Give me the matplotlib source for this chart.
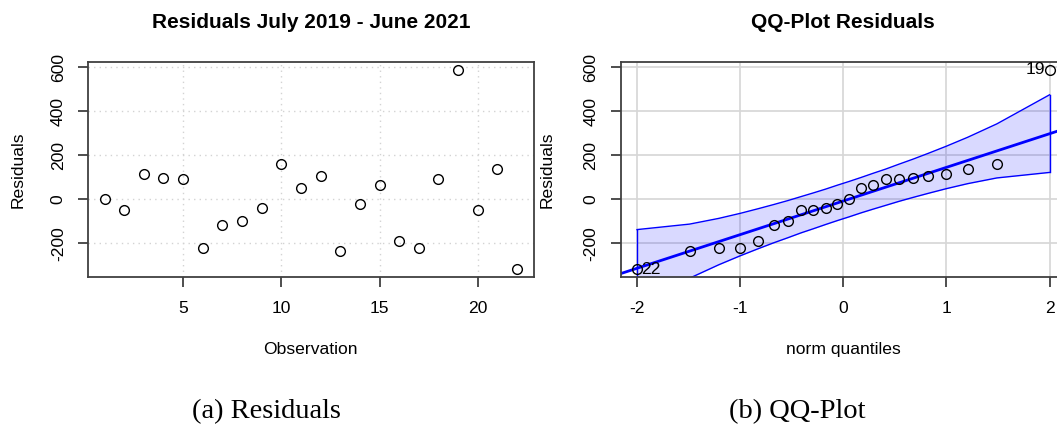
import matplotlib
matplotlib.use("Agg")
import matplotlib.pyplot as plt
import numpy as np

plt.rcParams["font.family"] = ["Liberation Sans", "DejaVu Sans"]
plt.rcParams["axes.unicode_minus"] = False

# residuals by observation
observations = list(range(1, 23))
residuals = [3, -47, 117, 97, 91, -221, -115, -98, -39, 159, 53,
             106, -235, -23, 67, -188, -221, 91, 588, -47, 139, -318]

# QQ panel: theoretical normal quantiles, reference line and envelope
norm_quantiles = [-2.000, -1.490, -1.207, -0.998, -0.825, -0.674, -0.537, -0.410,
                  -0.289, -0.172, -0.057, 0.057, 0.172, 0.289, 0.410, 0.537,
                  0.674, 0.825, 0.998, 1.207, 1.490, 2.000]
line_intercept = -8
line_slope = 153
band_upper = [-138, -113, -87, -64, -43, -24, -6, 12, 29, 46, 64,
              81, 99, 118, 137, 159, 182, 209, 241, 282, 343, 475]
band_lower = [-491, -359, -298, -257, -225, -198, -175, -153, -134, -115, -97,
              -80, -62, -45, -28, -10, 8, 27, 48, 71, 97, 122]
labelled_points = {22: "22", 19: "19"}

x_ticks_obs = [5, 10, 15, 20]
x_ticks_qq = [-2, -1, 0, 1, 2]
y_ticks = [-200, 0, 200, 400, 600]

FS = 12.6
EDGE = "#404040"

W, H = 1057, 430
fig = plt.figure(figsize=(W / 100, H / 100), dpi=100)
ax_w, ax_h = 445.5 / W, 215 / H
ax_b = (H - 277.3) / H
ax1 = fig.add_axes([88 / W, ax_b, ax_w, ax_h])
ax2 = fig.add_axes([620.5 / W, ax_b, ax_w, ax_h])


def style_axes(ax):
    for s in ax.spines.values():
        s.set_color(EDGE)
        s.set_linewidth(1.3)
    ax.tick_params(direction="out", length=7, width=1.3, color=EDGE,
                   labelsize=FS)
    ax.tick_params(axis="x", pad=10)
    ax.tick_params(axis="y", labelrotation=90, pad=9)
    for lbl in ax.get_yticklabels():
        lbl.set_va("center")
    ax.set_yticks(y_ticks)
    ax.set_ylim(-355, 623)
    ax.set_axisbelow(True)


# (a) residuals over time
ax1.plot(observations, residuals, "o", mfc="none", mec="black", ms=7, mew=1)
ax1.set_xlim(0.16, 22.84)
ax1.set_xticks(x_ticks_obs)
style_axes(ax1)
ax1.grid(True, color="lightgray", linestyle=(0, (1, 3)), linewidth=1)
ax1.set_xlabel("Observation", fontsize=FS, va="center")
ax1.xaxis.set_label_coords(0.5, -0.338)
ax1.set_ylabel("Residuals", fontsize=FS, va="center")
ax1.yaxis.set_label_coords(-0.157, 0.5)
ax1.text(0.5, 1.183, "Residuals July 2019 - June 2021", transform=ax1.transAxes,
         ha="center", va="center", fontsize=15, fontweight="bold")

# (b) QQ plot
sorted_res = np.sort(residuals)
ax2.fill_between(norm_quantiles, band_lower, band_upper, color=(0, 0, 1, 0.15),
                 linewidth=0)
ax2.plot(norm_quantiles, band_upper, color="blue", lw=1)
ax2.plot(norm_quantiles, band_lower, color="blue", lw=1)
ax2.plot([norm_quantiles[0]] * 2, [band_lower[0], band_upper[0]], color="blue", lw=1)
ax2.plot([norm_quantiles[-1]] * 2, [band_lower[-1], band_upper[-1]], color="blue", lw=1)
ax2.axline((0, line_intercept), slope=line_slope, color="blue", lw=2)
ax2.plot(norm_quantiles, sorted_res, "o", mfc="none", mec="black", ms=7, mew=1,
         zorder=5)
for obs, txt in labelled_points.items():
    yv = residuals[obs - 1]
    idx = int(np.where(sorted_res == yv)[0][0])
    xv = norm_quantiles[idx]
    if xv < 0:
        ax2.annotate(txt, (xv, yv), xytext=(3, 0), textcoords="offset points",
                     ha="left", va="center", fontsize=FS)
    else:
        ax2.annotate(txt, (xv, yv), xytext=(-3, 0), textcoords="offset points",
                     ha="right", va="center", fontsize=FS)
ax2.set_xlim(-2.16, 2.16)
ax2.set_xticks(x_ticks_qq)
style_axes(ax2)
ax2.grid(True, color="#d6d6d6", linestyle="-", linewidth=1.2)
ax2.set_xlabel("norm quantiles", fontsize=FS, va="center")
ax2.xaxis.set_label_coords(0.5, -0.338)
ax2.set_ylabel("Residuals", fontsize=FS, va="center")
ax2.yaxis.set_label_coords(-0.165, 0.5)
ax2.text(0.5, 1.183, "QQ-Plot Residuals", transform=ax2.transAxes,
         ha="center", va="center", fontsize=15, fontweight="bold")

# sub-captions
fig.text(266 / W, 1 - 412 / H, "(a) Residuals", ha="center", va="center",
         fontsize=20.5, family="Liberation Serif")
fig.text(797 / W, 1 - 412 / H, "(b) QQ-Plot", ha="center", va="center",
         fontsize=20.5, family="Liberation Serif")

fig.savefig("out.png", dpi=100)
